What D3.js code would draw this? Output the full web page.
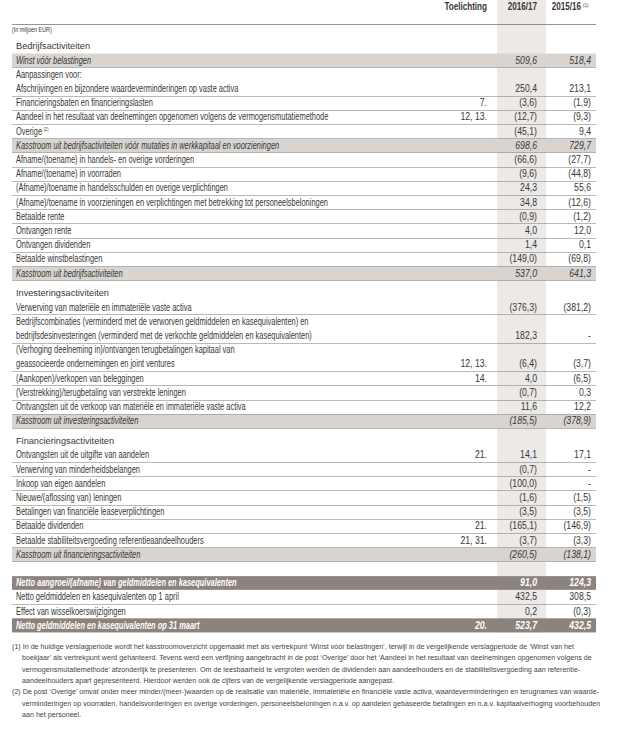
<!DOCTYPE html>
<html>
<head>
<meta charset="utf-8">
<script src="https://cdn.jsdelivr.net/npm/d3@7"></script>
<style>
  body { margin: 0; background: #fff; }
</style>
</head>
<body>
<div id="chart"></div>
<script>
// row kinds: h = section title, s = subtotal (shaded), r = row, c = first line of a 2-line label,
// g = empty spacer, t = total (dark)
const kinds = [
  "h", "s", "r", "r", "r", "r", "r", "s", "r", "r", "r", "r", "r", "r", "r", "r", "s",
  "h", "r", "c", "r", "c", "r", "r", "r", "r", "s",
  "h", "r", "r", "r", "r", "r", "r", "r", "s",
  "g", "t", "r", "r", "t"
];

const labels = [
  "Bedrijfsactiviteiten",
  "Winst vóór belastingen",
  "Aanpassingen voor:",
  "Afschrijvingen en bijzondere waardeverminderingen op vaste activa",
  "Financieringsbaten en financieringslasten",
  "Aandeel in het resultaat van deelnemingen opgenomen volgens de vermogensmutatiemethode",
  "Overige",
  "Kasstroom uit bedrijfsactiviteiten vóór mutaties in werkkapitaal en voorzieningen",
  "Afname/(toename) in handels- en overige vorderingen",
  "Afname/(toename) in voorraden",
  "(Afname)/toename in handelsschulden en overige verplichtingen",
  "(Afname)/toename in voorzieningen en verplichtingen met betrekking tot personeelsbeloningen",
  "Betaalde rente",
  "Ontvangen rente",
  "Ontvangen dividenden",
  "Betaalde winstbelastingen",
  "Kasstroom uit bedrijfsactiviteiten",
  "Investeringsactiviteiten",
  "Verwerving van materiële en immateriële vaste activa",
  "Bedrijfscombinaties (verminderd met de verworven geldmiddelen en kasequivalenten) en",
  "bedrijfsdesinvesteringen (verminderd met de verkochte geldmiddelen en kasequivalenten)",
  "(Verhoging deelneming in)/ontvangen terugbetalingen kapitaal van",
  "geassocieerde ondernemingen en joint ventures",
  "(Aankopen)/verkopen van beleggingen",
  "(Verstrekking)/terugbetaling van verstrekte leningen",
  "Ontvangsten uit de verkoop van materiële en immateriële vaste activa",
  "Kasstroom uit investeringsactiviteiten",
  "Financieringsactiviteiten",
  "Ontvangsten uit de uitgifte van aandelen",
  "Verwerving van minderheidsbelangen",
  "Inkoop van eigen aandelen",
  "Nieuwe/(aflossing van) leningen",
  "Betalingen van financiële leaseverplichtingen",
  "Betaalde dividenden",
  "Betaalde stabiliteitsvergoeding referentieaandeelhouders",
  "Kasstroom uit financieringsactiviteiten",
  "",
  "Netto aangroei/(afname) van geldmiddelen en kasequivalenten",
  "Netto geldmiddelen en kasequivalenten op 1 april",
  "Effect van wisselkoerswijzigingen",
  "Netto geldmiddelen en kasequivalenten op 31 maart"
];

// superscript footnote marks on labels
const labelMarks = { 6: "(2)" };

const notes = [
  "", "", "", "", "7.", "12, 13.", "", "", "", "", "", "", "", "", "", "", "",
  "", "", "", "", "", "12, 13.", "14.", "", "", "",
  "", "21.", "", "", "", "", "21.", "21, 31.", "",
  "", "", "", "", "20."
];

// "" = empty cell, null = dash
const values2017 = [
  "", 509.6, "", 250.4, -3.6, -12.7, -45.1, 698.6, -66.6, -9.6, 24.3, 34.8, -0.9, 4.0, 1.4, -149.0, 537.0,
  "", -376.3, "", 182.3, "", -6.4, 4.0, -0.7, 11.6, -185.5,
  "", 14.1, -0.7, -100.0, -1.6, -3.5, -165.1, -3.7, -260.5,
  "", 91.0, 432.5, 0.2, 523.7
];

const values2016 = [
  "", 518.4, "", 213.1, -1.9, -9.3, 9.4, 729.7, -27.7, -44.8, 55.6, -12.6, -1.2, 12.0, 0.1, -69.8, 641.3,
  "", -381.2, "", null, "", -3.7, -6.5, 0.3, 12.2, -378.9,
  "", 17.1, null, null, -1.5, -3.5, -146.9, -3.3, -138.1,
  "", 124.3, 308.5, -0.3, 432.5
];

const columns = ["Toelichting", "2016/17", "2015/16"];
const columnMarks = ["", "", "(1)"];

const footnote1 = [
  "(1) In de huidige verslagperiode wordt het kasstroomoverzicht opgemaakt met als vertrekpunt ‘Winst vóór belastingen’, terwijl in de vergelijkende verslagperiode de ‘Winst van het",
  "boekjaar’ als vertrekpunt werd gehanteerd. Tevens werd een verfijning aangebracht in de post ‘Overige’ door het ‘Aandeel in het resultaat van deelnemingen opgenomen volgens de",
  "vermogensmutatiemethode’ afzonderlijk te presenteren. Om de leesbaarheid te vergroten werden de dividenden aan aandeelhouders en de stabiliteitsvergoeding aan referentie-",
  "aandeelhouders apart gepresenteerd. Hierdoor werden ook de cijfers van de vergelijkende verslagperiode aangepast."
];
const footnote2 = [
  "(2) De post ‘Overige’ omvat onder meer minder/(meer-)waarden op de realisatie van materiële, immateriële en financiële vaste activa, waardeverminderingen en terugnames van waarde-",
  "verminderingen op voorraden, handelsvorderingen en overige vorderingen, personeelsbeloningen n.a.v. op aandelen gebaseerde betalingen en n.a.v. kapitaalverhoging voorbehouden",
  "aan het personeel."
];

const width = 625, height = 731;
const left = 12, right = 596, textLeft = 16;
const pitch = 14.2, top0 = 33.2;
const font = "'Liberation Sans', Arial, sans-serif";
const ink = "#383838";
const fs = 10;
// horizontal squeeze to imitate the condensed face of the original
const sxLabel = 0.745, sxNum = 0.87, sxHead = 0.78;

const weight = k => k === "h" ? 1.4 : 1;
const bottoms = d3.cumsum(kinds, weight);
const totalSlots = bottoms[bottoms.length - 1];

const y = d3.scaleLinear()
  .domain([0, totalSlots])
  .range([top0, top0 + totalSlots * pitch]);

// right edges of the three columns
const x = d3.scaleOrdinal()
  .domain(columns)
  .range([487, 537, 591]);

const nl = d3.formatLocale({ decimal: ",", thousands: ".", grouping: [3], currency: ["€", ""] });
const f1 = nl.format(",.1f");
const fmt = v => v === "" ? "" : v === null ? "-" : v < 0 ? "(" + f1(-v) + ")" : f1(v);

const rows = kinds.map((k, i) => ({
  kind: k,
  label: labels[i],
  note: notes[i],
  v1: values2017[i],
  v2: values2016[i],
  top: y(bottoms[i] - 1),
  bottom: y(bottoms[i]),
  mark: labelMarks[i] || ""
}));

const svg = d3.select("#chart")
  .append("svg")
  .attr("width", width)
  .attr("height", height)
  .style("font-family", font);

// shaded column for current year
svg.append("rect")
  .attr("x", 497)
  .attr("y", 0)
  .attr("width", 49)
  .attr("height", y(totalSlots))
  .attr("fill", "#ece9e7");

// shaded rows
svg.selectAll("rect.band")
  .data(rows.filter(d => d.kind === "s" || d.kind === "t"))
  .enter().append("rect")
  .attr("class", "band")
  .attr("x", left)
  .attr("y", d => d.top + 0.5)
  .attr("width", right - left)
  .attr("height", d => d.bottom - d.top - 0.5)
  .attr("fill", d => d.kind === "t" ? "#8c837d" : "#d9d4d0");

// separator lines
svg.selectAll("line.sep")
  .data(rows.filter(d => ["r", "s"].includes(d.kind) && d.label !== "Aanpassingen voor:"))
  .enter().append("line")
  .attr("class", "sep")
  .attr("x1", left)
  .attr("x2", right)
  .attr("y1", d => Math.round(d.bottom) + 0.5)
  .attr("y2", d => Math.round(d.bottom) + 0.5)
  .attr("stroke", "#8a8a8a")
  .attr("stroke-width", 0.6);

// header
const head = svg.append("g");
head.selectAll("text")
  .data(columns)
  .enter().append("text")
  .attr("transform", (d, i) => `translate(${x(d) - (i === 2 ? 10 : 0)},10) scale(${sxHead},1)`)
  .attr("text-anchor", "end")
  .attr("fill", ink)
  .style("font-size", "10.4px")
  .style("font-weight", "bold")
  .text(d => d);

head.append("text")
  .attr("x", x(columns[2]) - 8)
  .attr("y", 7)
  .attr("fill", ink)
  .style("font-size", "4.5px")
  .text(columnMarks[2]);

svg.append("line")
  .attr("x1", left)
  .attr("x2", right)
  .attr("y1", 24.5)
  .attr("y2", 24.5)
  .attr("stroke", "#777")
  .attr("stroke-width", 0.8);

svg.append("text")
  .attr("transform", `translate(${left},31.5) scale(0.85,1)`)
  .attr("fill", ink)
  .style("font-size", "6.4px")
  .text("(In miljoen EUR)");

// row texts
const rowG = svg.selectAll("g.row")
  .data(rows.filter(d => d.kind !== "g"))
  .enter().append("g")
  .attr("class", "row")
  .attr("transform", d => `translate(0,${d.bottom - pitch / 2 + 3.4})`);

const textFill = d => d.kind === "t" ? "#fff" : ink;
const textStyle = d => d.kind === "s" || d.kind === "t" ? "italic" : "normal";
const textWeight = d => d.kind === "t" ? "bold" : "normal";

const lab = rowG.append("text")
  .attr("transform", d => d.kind === "h"
    ? `translate(${textLeft},0)`
    : `translate(${textLeft},0) scale(${sxLabel},1)`)
  .attr("fill", textFill)
  .style("font-style", textStyle)
  .style("font-weight", textWeight)
  .style("font-size", d => d.kind === "h" ? "9.2px" : fs + "px");

lab.append("tspan").text(d => d.label);
lab.append("tspan")
  .attr("dx", 2)
  .attr("dy", -3.5)
  .style("font-size", "5.5px")
  .text(d => d.mark);

const cells = [
  { get: d => d.note, col: columns[0] },
  { get: d => fmt(d.v1), col: columns[1] },
  { get: d => fmt(d.v2), col: columns[2] }
];

cells.forEach(c => {
  rowG.append("text")
    .attr("transform", d => `translate(${x(c.col)},0) scale(${sxNum},1)`)
    .attr("text-anchor", "end")
    .attr("fill", textFill)
    .style("font-weight", textWeight)
    .style("font-style", textStyle)
    .style("font-size", fs + "px")
    .text(c.get);
});

// footnotes
const foot = svg.append("g")
  .style("font-size", "7.15px")
  .attr("fill", "#444");

const footLines = footnote1.map((t, i) => ({ t, first: i === 0 }))
  .concat(footnote2.map((t, i) => ({ t, first: i === 0 })));

foot.selectAll("text")
  .data(footLines)
  .enter().append("text")
  .attr("x", d => d.first ? left : left + 10)
  .attr("y", (d, i) => 649 + i * 11.3)
  .text(d => d.t);
</script>
</body>
</html>
